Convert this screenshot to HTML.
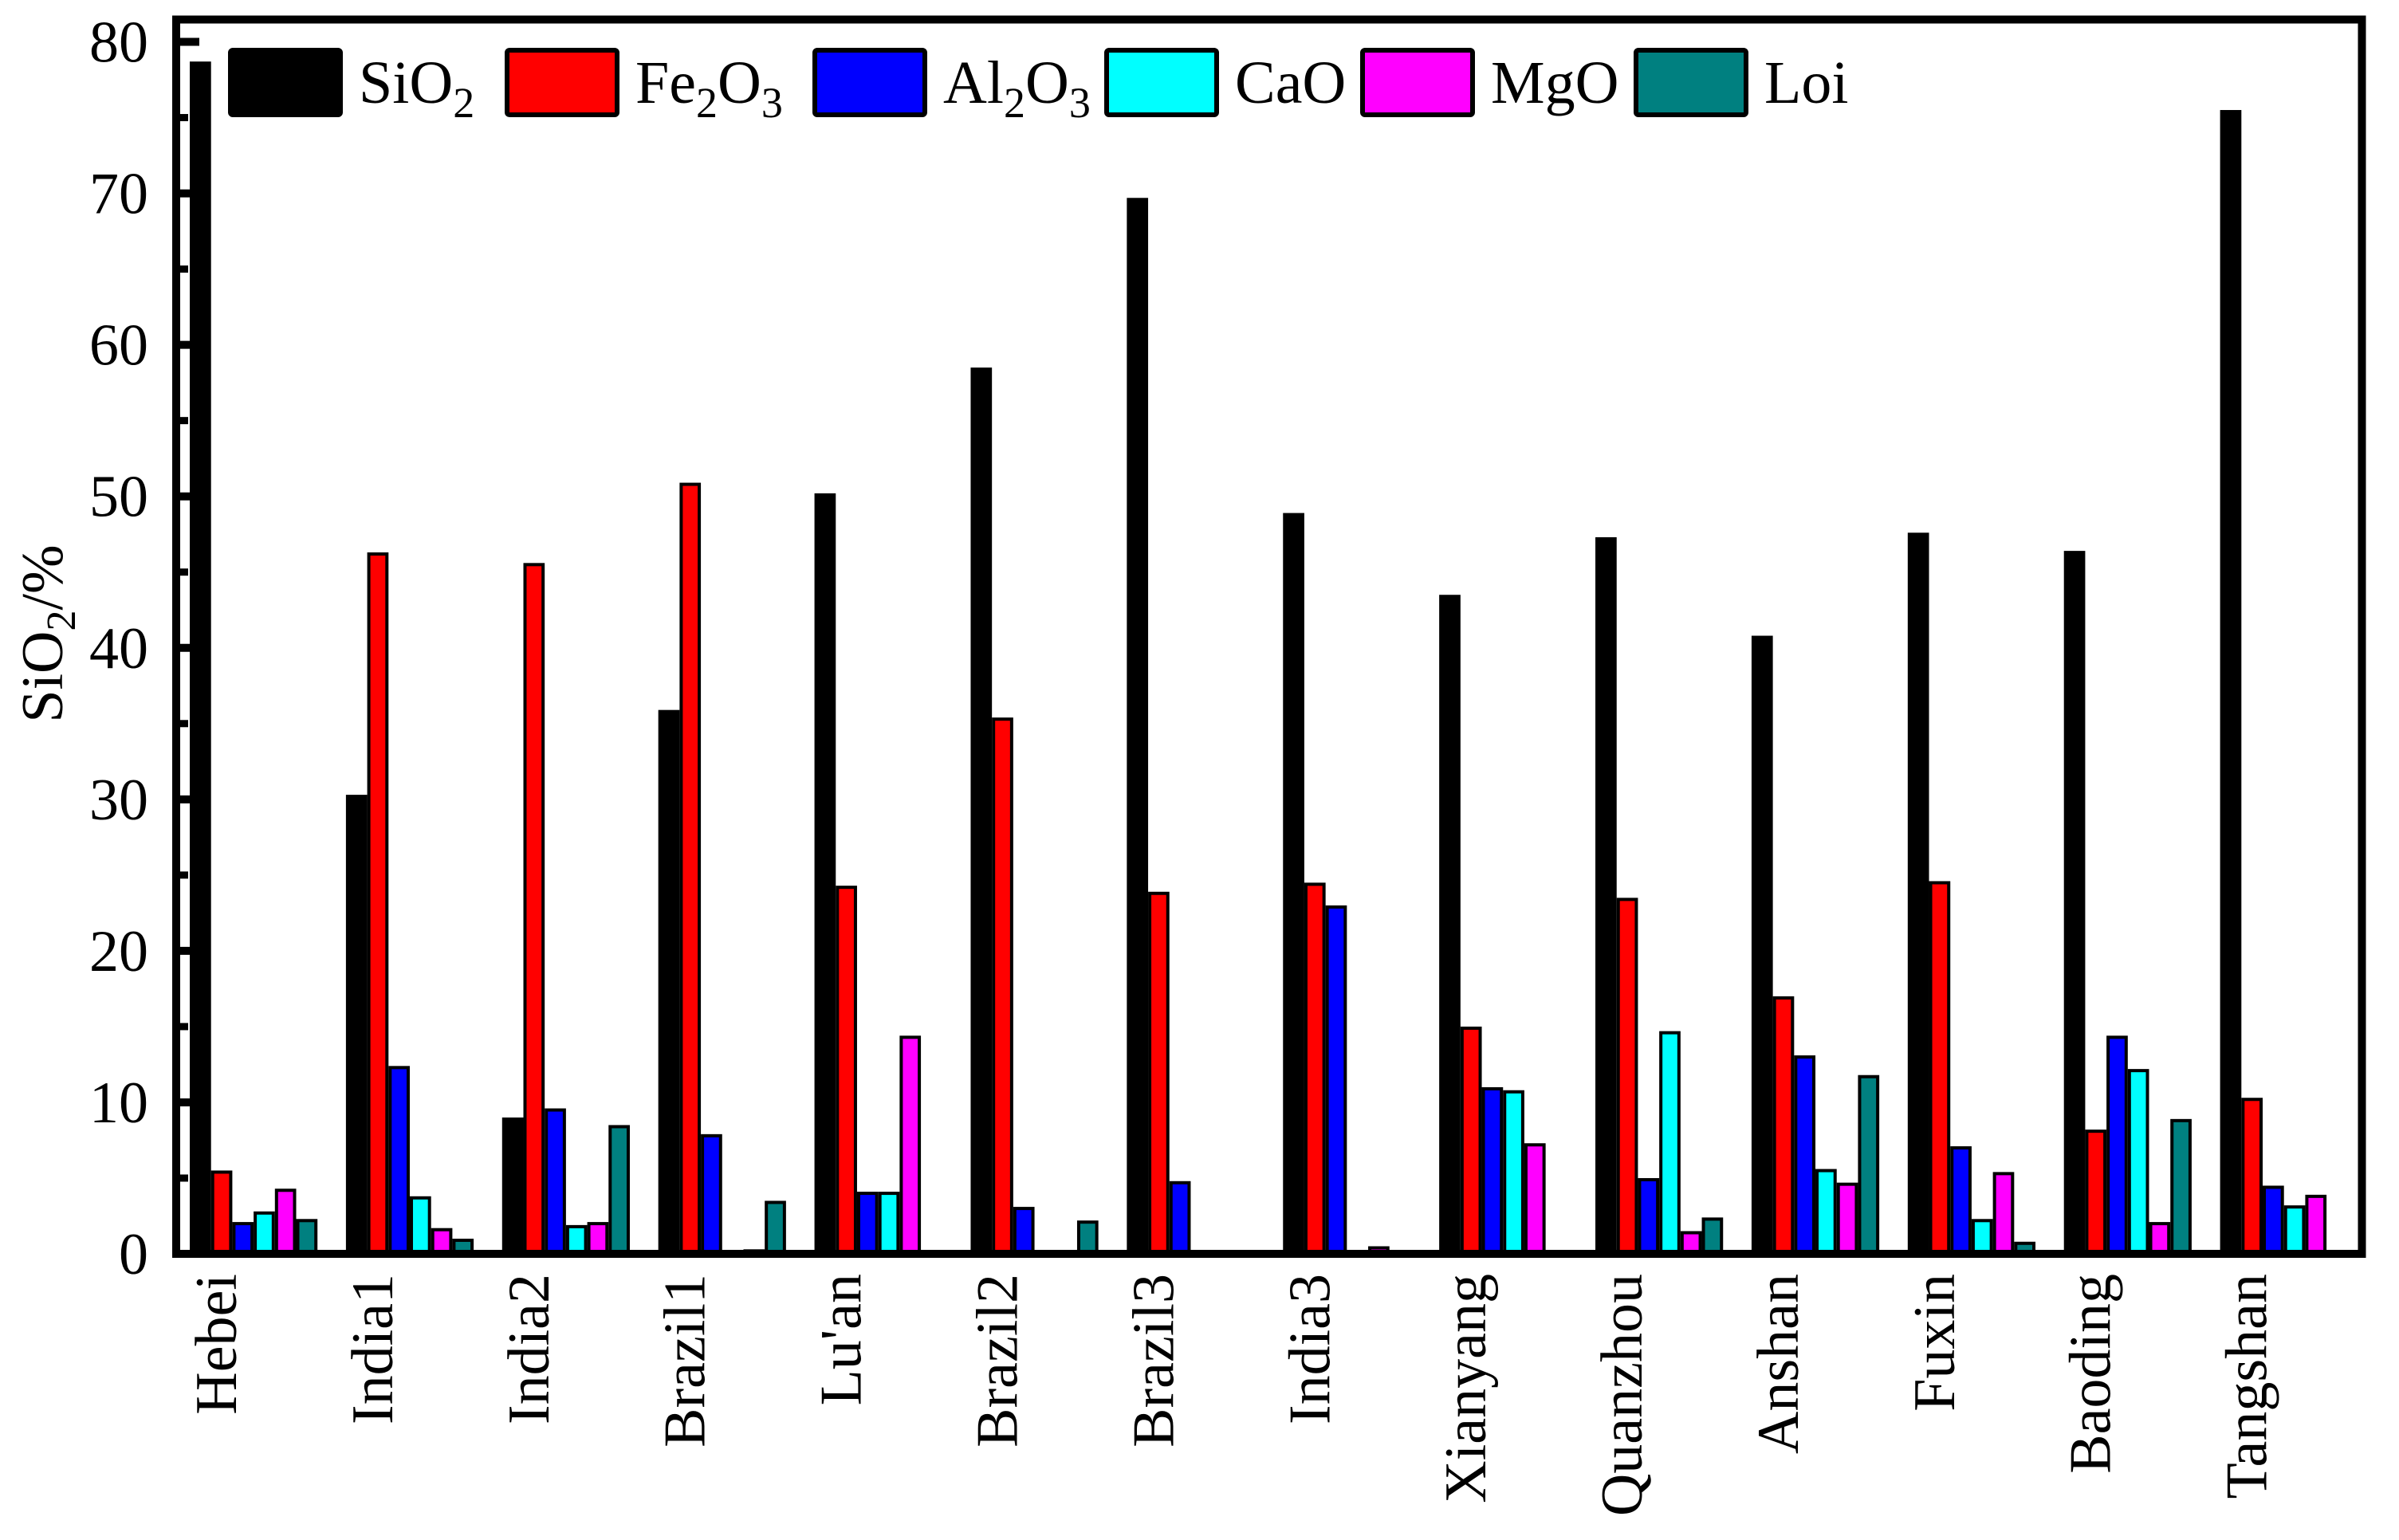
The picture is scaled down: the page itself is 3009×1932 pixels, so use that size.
<!DOCTYPE html>
<html><head><meta charset="utf-8">
<style>
html,body{margin:0;padding:0;background:#fff;}
svg{display:block;}
text{font-family:"Liberation Serif","DejaVu Serif",serif;fill:#000;}
</style></head>
<body>
<svg id="chart" width="3009" height="1932" viewBox="0 0 3009 1932" xmlns="http://www.w3.org/2000/svg">
<g id="bars"></g>
<g id="axes"></g>
<g id="legend"></g>
</svg>
<script>
const categories = ["Hebei","India1","India2","Brazil1","Lu'an","Brazil2","Brazil3","India3","Xianyang","Quanzhou","Anshan","Fuxin","Baoding","Tangshan"];
const seriesNames = ["SiO2","Fe2O3","Al2O3","CaO","MgO","Loi"];
const sio2  = [78.7,30.3,9.0,35.9,50.2,58.5,69.7,48.9,43.5,47.3,40.8,47.6,46.4,75.5];
const fe2o3 = [5.5,46.3,45.6,50.9,24.3,35.4,23.9,24.5,15.0,23.5,17.0,24.6,8.2,10.3];
const al2o3 = [2.1,12.4,9.6,7.9,4.1,3.1,4.8,23.0,11.0,5.0,13.1,7.1,14.4,4.5];
const cao   = [2.8,3.8,1.9,0,4.1,0,0,0,10.8,14.7,5.6,2.3,12.2,3.2];
const mgo   = [4.3,1.7,2.1,0.3,14.4,0,0,0.5,7.3,1.5,4.7,5.4,2.1,3.9];
const loi   = [2.3,1.0,8.5,3.5,0,2.2,0,0,0,2.4,11.8,0.8,8.9,0];
const yTicks = [0,10,20,30,40,50,60,70,80];
const colors = ["#000000","#ff0000","#0000ff","#00ffff","#ff00ff","#008080"];
const series = [sio2,fe2o3,al2o3,cao,mgo,loi];

const NS = "http://www.w3.org/2000/svg";
const L = 221, R = 2962.5, T = 24.5, B = 1573;
const Y0 = 1573, Y80 = 52.5;
function y(v){ return Y0 - (Y80 - Y0) * -v / 80; }
const slotW = (R - L + 1) / categories.length;
const barW = 26.7;
function xBar(g, i){ return 220 + slotW * g + 18 + barW * i; }
function mk(tag, attrs, parent){ const e = document.createElementNS(NS, tag); for (const k in attrs) e.setAttribute(k, attrs[k]); parent.appendChild(e); return e; }

const bars = document.getElementById('bars');
series.forEach((vals, si) => {
  vals.forEach((v, g) => {
    if (v <= 0) return;
    const r = mk('rect', {x: xBar(g, si) + 2, y: y(v) + 2, width: barW - 4, height: Y0 - y(v) - 2, fill: colors[si], stroke: '#000', 'stroke-width': 4}, bars);
    
    
  });
});

const axes = document.getElementById('axes');
const frame = mk('rect', {x: L, y: T, width: R - L, height: B - T, fill: 'none', stroke: '#000', 'stroke-width': 10}, axes);


yTicks.forEach(t => {
  const tk = mk('line', {x1: L, x2: 250, y1: y(t), y2: y(t), stroke: '#000', 'stroke-width': 10}, axes);
  
  
  const lb = mk('text', {x: 186, y: y(t) + 25, 'text-anchor': 'end', 'font-size': 74}, axes);
  lb.textContent = t;
  
  
  if (t < 80) {
    const mt = mk('line', {x1: L, x2: 236, y1: y(t + 5), y2: y(t + 5), stroke: '#000', 'stroke-width': 9}, axes);
    
    
  }
});
categories.forEach((c, g) => {
  const bx = 220 + slotW * g + 76;
  const lb = mk('text', {x: 0, y: 0, 'text-anchor': 'end', 'font-size': 74, transform: 'translate(' + bx + ',1598) rotate(-90)'}, axes);
  lb.textContent = c;
  
  
});
const yt = mk('text', {x: 0, y: 0, 'text-anchor': 'middle', 'font-size': 74, transform: 'translate(78,795) rotate(-90)'}, axes);
yt.innerHTML = 'SiO<tspan font-size="52" dy="16">2</tspan><tspan dy="-16">/%</tspan>';



const legend = document.getElementById('legend');
const legX = [286, 633, 1019, 1385, 1706, 2049];
const legLabels = [['SiO','2',''],['Fe','2','O<tspan font-size="54" dy="18">3</tspan>'],['Al','2','O<tspan font-size="54" dy="18">3</tspan>'],['CaO','',''],['MgO','',''],['Loi','','']];
seriesNames.forEach((n, i) => {
  const sw = mk('rect', {x: legX[i] + 3, y: 63, width: 138, height: 81, rx: 3, fill: colors[i], stroke: '#000', 'stroke-width': 6}, legend);
  
  
  const tx = mk('text', {x: legX[i] + 164, y: 129, 'font-size': 76}, legend);
  const p = legLabels[i];
  let h = p[0];
  if (p[1]) h += '<tspan font-size="54" dy="18">' + p[1] + '</tspan>';
  if (p[2]) h += '<tspan dy="-18">' + p[2] + '</tspan>';
  tx.innerHTML = h;
  
  
});
</script>
</body></html>
